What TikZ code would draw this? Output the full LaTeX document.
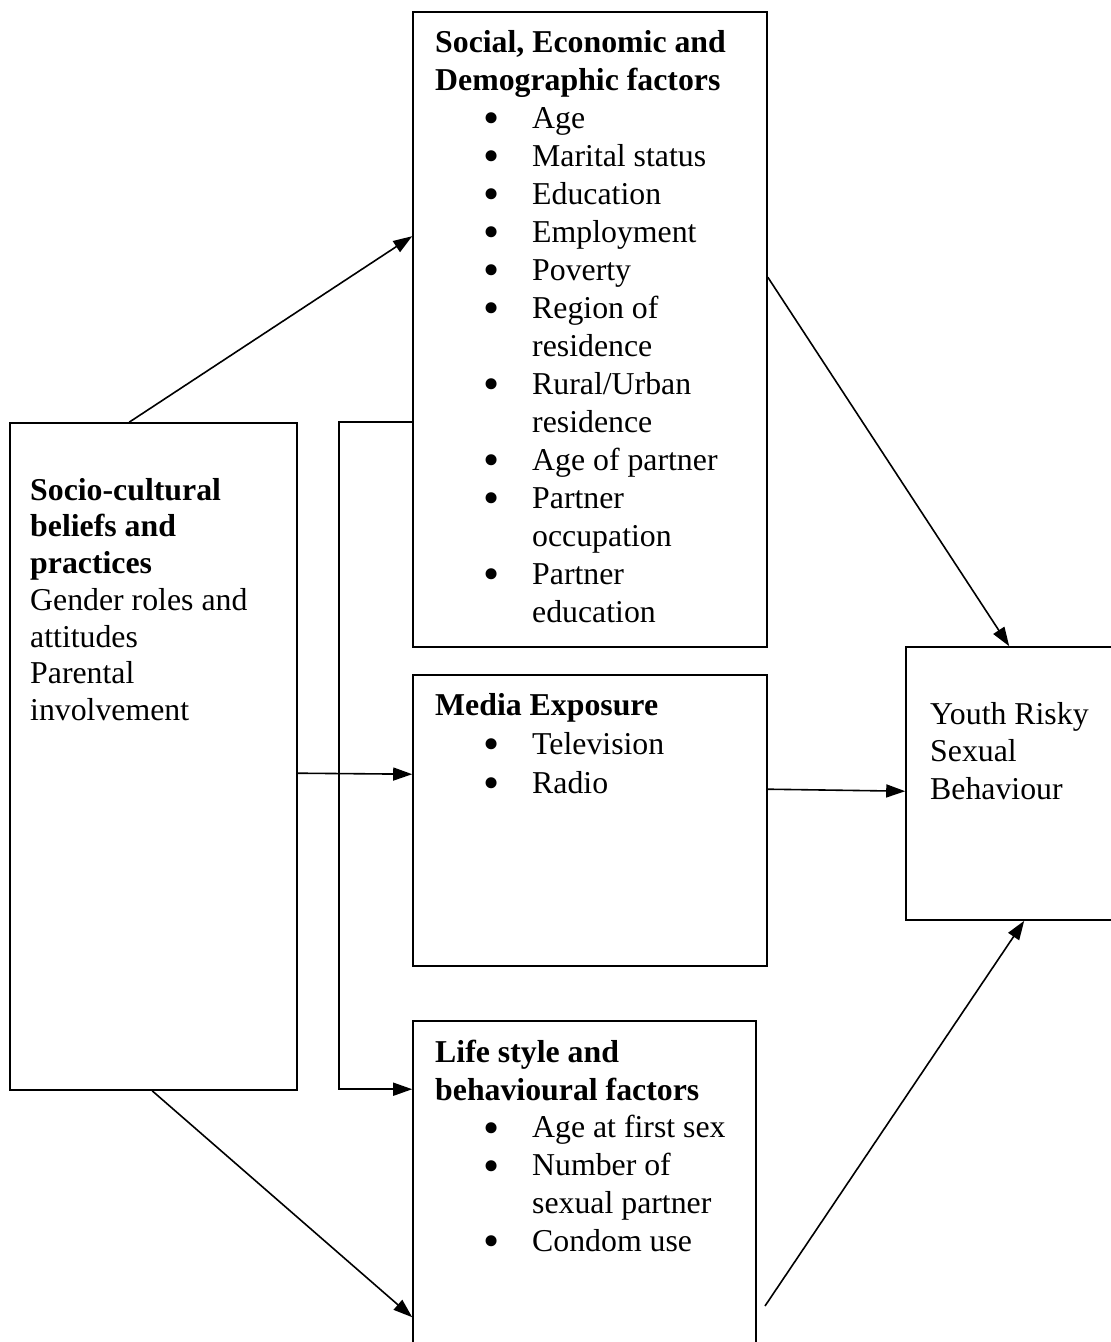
\documentclass[tikz,border=0pt]{standalone}
\usepackage{fontspec}
\usepackage{graphicx}
\setmainfont{Liberation Serif}
\usetikzlibrary{arrows.meta}
\newcommand\bigbul{\makebox[0pt]{\smash{\raisebox{-5.5pt}{\scalebox{1.45}{\textbullet}}}}}
\newcommand\bitem[1]{\makebox[97pt][l]{\hspace{56pt}\bigbul}#1}
\newcommand\bcont[1]{\hspace*{97pt}#1}
\newcommand\topstrut{\rule{0pt}{26pt}}
\begin{document}
\begin{tikzpicture}[x=1pt,y=-1pt,
  box/.style={draw,line width=1.6pt,inner sep=0pt},
  txt/.style={anchor=north west,inner sep=0pt,align=left,font=\fontsize{31.8}{38}\selectfont},
  arr/.style={line width=1.6pt,-{Triangle[length=19pt,width=13pt]}},
  ln/.style={line width=1.6pt}]
\useasboundingbox (0,0) rectangle (1111,1342);
\clip (0,0) rectangle (1111,1342);
% boxes
\node[box,minimum width=354pt,minimum height=635pt] (sed) at (590,329.5) {};
\node[box,minimum width=354pt,minimum height=291pt] (media) at (590,820.5) {};
\node[box,minimum width=343pt,minimum height=349pt] (life) at (584.5,1195.5) {};
\node[box,minimum width=287pt,minimum height=667pt] (socio) at (153.5,756.5) {};
\node[box,minimum width=219pt,minimum height=273pt] (youth) at (1015.5,783.5) {};
% texts
\node[txt] (sedt) at (435,26) {\topstrut\textbf{Social, Economic and}\\
\textbf{Demographic factors}\\
\bitem{Age}\\
\bitem{Marital status}\\
\bitem{Education}\\
\bitem{Employment}\\
\bitem{Poverty}\\
\bitem{Region of}\\
\bcont{residence}\\
\bitem{Rural/Urban}\\
\bcont{residence}\\
\bitem{Age of partner}\\
\bitem{Partner}\\
\bcont{occupation}\\
\bitem{Partner}\\
\bcont{education}};
\node[txt,font=\fontsize{31.8}{36.7}\selectfont] (sociot) at (30,474) {\topstrut\textbf{Socio-cultural}\\
\textbf{beliefs and}\\
\textbf{practices}\\
Gender roles and\\
attitudes\\
Parental\\
involvement};
\node[txt,font=\fontsize{31.8}{39}\selectfont] (mediat) at (435,689) {\topstrut\textbf{Media Exposure}\\
\bitem{Television}\\
\bitem{Radio}};
\node[txt,font=\fontsize{31.8}{37.8}\selectfont] (lifet) at (435,1036) {\topstrut\textbf{Life style and}\\
\textbf{behavioural factors}\\
\bitem{Age at first sex}\\
\bitem{Number of}\\
\bcont{sexual partner}\\
\bitem{Condom use}};
\node[txt,font=\fontsize{31.8}{37.5}\selectfont] (youtht) at (930,698) {\topstrut Youth Risky\\
Sexual\\
Behaviour};
% connectors
\coordinate (lstart) at (765,1306);
\draw[arr] ([xshift=120pt]socio.north west) -- ([yshift=-225pt]sed.north west);
\draw[arr] ([yshift=-351pt]socio.north east) -- ([yshift=-100pt]media.north west);
\draw[arr] ([yshift=-411pt]sed.north west) -- ++(-73,0) |- ([yshift=-69pt]life.north west);
\draw[arr] ([xshift=143pt]socio.south west) -- ([yshift=-297pt]life.north west);
\draw[arr] ([yshift=-266pt]sed.north east) -- ([xshift=104pt]youth.north west);
\draw[arr] ([yshift=-115pt]media.north east) -- ([yshift=-145pt]youth.north west);
\draw[arr] (lstart) -- ([xshift=119pt]youth.south west);
\end{tikzpicture}
\end{document}
